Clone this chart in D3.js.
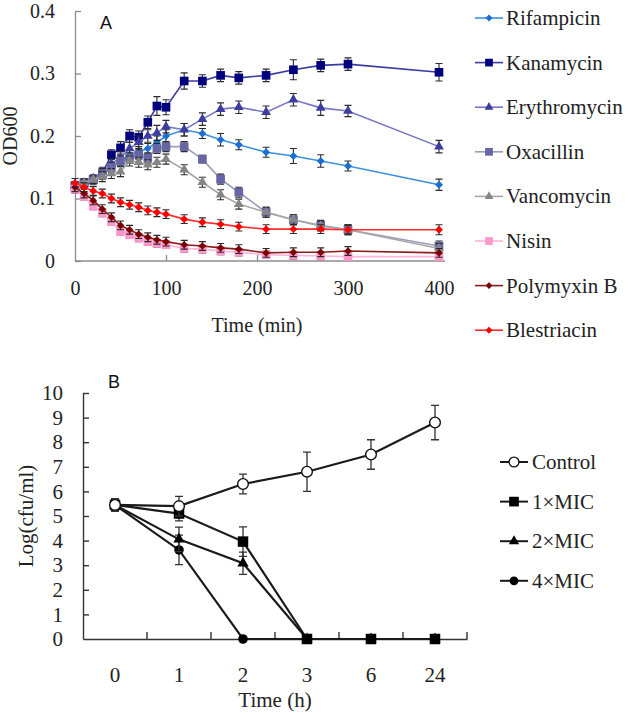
<!DOCTYPE html>
<html><head><meta charset="utf-8">
<script src="https://cdn.jsdelivr.net/npm/d3@7/dist/d3.min.js"></script>
<style>
html,body{margin:0;padding:0;background:#fff;}
svg{display:block;}
</style>
</head><body>
<svg id="chart" width="633" height="714"></svg>
<script>
// ---------- Panel A data ----------
const timeA = [0,10,20,30,40,50,60,70,80,90,100,120,140,160,180,210,240,270,300,400];
const drugs = ["Rifampicin","Kanamycin","Erythromycin","Oxacillin","Vancomycin","Nisin","Polymyxin B","Blestriacin"];
const rifampicin   = [0.12,0.122,0.128,0.138,0.15,0.16,0.17,0.175,0.18,0.19,0.2,0.21,0.204,0.194,0.186,0.174,0.168,0.16,0.152,0.122];
const kanamycin    = [0.12,0.125,0.13,0.14,0.17,0.181,0.2,0.198,0.222,0.248,0.246,0.288,0.288,0.297,0.293,0.297,0.306,0.313,0.315,0.302];
const erythromycin = [0.12,0.125,0.132,0.142,0.155,0.165,0.18,0.19,0.2,0.205,0.215,0.21,0.227,0.243,0.246,0.238,0.258,0.245,0.24,0.183];
const oxacillin    = [0.12,0.125,0.13,0.14,0.15,0.16,0.165,0.17,0.165,0.18,0.183,0.183,0.163,0.131,0.11,0.078,0.066,0.057,0.05,0.024];
const vancomycin   = [0.12,0.125,0.13,0.135,0.14,0.143,0.16,0.158,0.154,0.158,0.163,0.146,0.126,0.106,0.091,0.078,0.066,0.056,0.05,0.02];
const nisin        = [0.115,0.103,0.088,0.077,0.063,0.047,0.042,0.037,0.031,0.028,0.026,0.02,0.019,0.016,0.014,0.01,0.009,0.008,0.007,0.007];
const polymyxinB   = [0.118,0.108,0.097,0.083,0.07,0.057,0.05,0.043,0.038,0.034,0.031,0.026,0.024,0.021,0.019,0.013,0.014,0.014,0.016,0.013];
const blestriacin  = [0.125,0.118,0.112,0.108,0.1,0.094,0.09,0.086,0.081,0.078,0.075,0.067,0.062,0.059,0.055,0.051,0.051,0.051,0.05,0.05];

const rifampicinErr   = [0.006,0.006,0.006,0.007,0.008,0.008,0.008,0.008,0.008,0.01,0.01,0.01,0.008,0.01,0.008,0.008,0.012,0.01,0.008,0.009];
const kanamycinErr    = [0.006,0.006,0.006,0.008,0.008,0.01,0.01,0.01,0.01,0.015,0.012,0.013,0.01,0.01,0.01,0.01,0.016,0.01,0.01,0.014];
const erythromycinErr = [0.006,0.006,0.006,0.008,0.008,0.01,0.01,0.01,0.01,0.012,0.01,0.01,0.01,0.01,0.01,0.01,0.01,0.012,0.009,0.01];
const oxacillinErr    = [0.006,0.006,0.006,0.008,0.008,0.008,0.008,0.008,0.008,0.008,0.008,0.008,0.006,0.008,0.008,0.008,0.008,0.008,0.008,0.008];
const vancomycinErr   = [0.006,0.006,0.006,0.008,0.008,0.008,0.008,0.008,0.008,0.008,0.008,0.008,0.008,0.008,0.008,0.008,0.008,0.008,0.008,0.008];
const nisinErr        = [0.006,0.006,0.006,0.006,0.006,0.006,0.006,0.006,0.006,0.006,0.006,0.006,0.006,0.006,0.006,0.006,0.006,0.006,0.006,0.006];
const polymyxinBErr   = [0.007,0.007,0.007,0.007,0.007,0.007,0.007,0.007,0.007,0.007,0.007,0.007,0.007,0.007,0.007,0.007,0.007,0.007,0.007,0.007];
const blestriacinErr  = [0.007,0.007,0.007,0.007,0.007,0.007,0.007,0.007,0.007,0.007,0.007,0.007,0.007,0.007,0.007,0.007,0.007,0.007,0.007,0.008];

const ticksAx = [0,100,200,300,400];
const ticksAy = [0,0.1,0.2,0.3,0.4];

// ---------- Panel B data ----------
const timeB = ["0","1","2","3","6","24"];
const groupsB = ["Control","1×MIC","2×MIC","4×MIC"];
const control  = [5.45,5.4,6.3,6.8,7.5,8.8];
const mic1     = [5.45,5.1,3.96,0,0,0];
const mic2     = [5.45,4.05,3.08,0,0,0];
const mic4     = [5.45,3.62,0,0,0,0];
const controlErr = [0.25,0.4,0.4,0.8,0.6,0.7];
const mic1Err    = [0.25,0.3,0.6,0,0,0];
const mic2Err    = [0.25,0.5,0.45,0,0,0];
const mic4Err    = [0.25,0.6,0,0,0,0];
const ticksBy = [0,1,2,3,4,5,6,7,8,9,10];

// ---------- styles ----------
const serif = "'Liberation Serif','Times New Roman',serif";
const sans = "'Liberation Sans',Arial,sans-serif";

const svg = d3.select("#chart");

// ================= PANEL A =================
const seriesA = [
  {name:drugs[0], v:rifampicin,   e:rifampicinErr,   line:"#3d8fe0", fill:"#1a6fd0", shape:d3.symbolDiamond2, size:40},
  {name:drugs[1], v:kanamycin,    e:kanamycinErr,    line:"#3a3aa2", fill:"#00007f", shape:d3.symbolSquare,   size:75},
  {name:drugs[2], v:erythromycin, e:erythromycinErr, line:"#7676c6", fill:"#3d3d9e", shape:d3.symbolTriangle, size:42},
  {name:drugs[3], v:oxacillin,    e:oxacillinErr,    line:"#9c9cbc", fill:"#6666a4", shape:d3.symbolSquare,   size:75},
  {name:drugs[4], v:vancomycin,   e:vancomycinErr,   line:"#a6a6a6", fill:"#858585", shape:d3.symbolTriangle, size:42},
  {name:drugs[5], v:nisin,        e:nisinErr,        line:"#ffb4da", fill:"#ff99cc", shape:d3.symbolSquare,   size:75},
  {name:drugs[6], v:polymyxinB,   e:polymyxinBErr,   line:"#8a1c1c", fill:"#7a0000", shape:d3.symbolDiamond2, size:38},
  {name:drugs[7], v:blestriacin,  e:blestriacinErr,  line:"#ff2a2a", fill:"#ff0000", shape:d3.symbolDiamond2, size:40}
];

const xA = d3.scaleLinear().domain([0,400]).range([75,439]);
const yA = d3.scaleLinear().domain([0,0.4]).range([261,11]);
const gA = svg.append("g");

// axes
const axA_y = gA.append("g").attr("transform","translate(75,0)")
  .call(d3.axisLeft(yA).tickValues(ticksAy).tickFormat(d=> d===0?"0":d3.format(".1f")(d)).tickSizeInner(-6).tickSizeOuter(0).tickPadding(20));
const axA_x = gA.append("g").attr("transform","translate(0,261)")
  .call(d3.axisBottom(xA).tickValues(ticksAx).tickSizeInner(-6).tickSizeOuter(0).tickPadding(20));
[axA_y, axA_x].forEach(a=>{
  a.attr("font-family",serif);
  a.select(".domain").attr("stroke","#8c8c8c").attr("stroke-width",1.3);
  a.selectAll(".tick line").attr("stroke","#8c8c8c").attr("stroke-width",1.3);
  a.selectAll("text").attr("font-family",serif).attr("font-size",20).attr("fill","#222");
});
axA_x.select(".tick line").remove();
axA_x.select(".domain").attr("d",`M75,0H445`);

gA.append("text").attr("transform","translate(17,136) rotate(-90)").attr("text-anchor","middle")
  .attr("font-family",serif).attr("font-size",20).attr("fill","#222").text("OD600");
gA.append("text").attr("x",257).attr("y",332).attr("text-anchor","middle")
  .attr("font-family",serif).attr("font-size",20).attr("fill","#222").text("Time (min)");
gA.append("text").attr("x",100).attr("y",29).attr("font-family",sans).attr("font-size",18).attr("fill","#111").text("A");

const lineA = d3.line().x((d,i)=>xA(timeA[i])).y(d=>yA(d));
seriesA.forEach(s=>{
  const g = gA.append("g");
  g.append("path").attr("d",lineA(s.v)).attr("fill","none").attr("stroke",s.line).attr("stroke-width",1.6);
  s.v.forEach((v,i)=>{
    const x = xA(timeA[i]), y1 = yA(v+s.e[i]), y2 = yA(v-s.e[i]);
    g.append("path").attr("d",`M${x},${y1}V${y2}M${x-3.5},${y1}H${x+3.5}M${x-3.5},${y2}H${x+3.5}`)
      .attr("stroke","#2a2a2a").attr("stroke-width",1.1).attr("fill","none");
  });
  s.v.forEach((v,i)=>{
    g.append("path").attr("d",d3.symbol().type(s.shape).size(s.size)())
      .attr("transform",`translate(${xA(timeA[i])},${yA(v)})`).attr("fill",s.fill);
  });
});

// legend A
const legA = gA.append("g");
seriesA.forEach((s,i)=>{
  const cy = 18 + i*44.6;
  legA.append("line").attr("x1",475).attr("x2",503).attr("y1",cy).attr("y2",cy).attr("stroke",s.line).attr("stroke-width",1.6);
  legA.append("path").attr("d",d3.symbol().type(s.shape).size(s.size*0.8)()).attr("transform",`translate(489,${cy})`).attr("fill",s.fill);
  legA.append("text").attr("x",506).attr("y",cy+7).attr("font-family",serif).attr("font-size",21).attr("fill","#222").text(s.name);
});

// ================= PANEL B =================
const xB = d3.scaleBand().domain(timeB).range([83,467]);
const yB = d3.scaleLinear().domain([0,10]).range([639,393]);
const gB = svg.append("g");
const cx = d => xB(d) + xB.bandwidth()/2;

const axB_y = gB.append("g").attr("transform","translate(83,0)")
  .call(d3.axisLeft(yB).tickValues(ticksBy).tickSizeInner(-6).tickSizeOuter(0).tickPadding(20));
const axB_x = gB.append("g").attr("transform","translate(0,639)")
  .call(d3.axisBottom(xB).tickSize(0).tickPadding(28));
[axB_y, axB_x].forEach(a=>{
  a.attr("font-family",serif);
  a.select(".domain").attr("stroke","#333").attr("stroke-width",1.4);
  a.selectAll(".tick line").attr("stroke","#333").attr("stroke-width",1.4);
  a.selectAll("text").attr("font-family",serif).attr("font-size",21).attr("fill","#222");
});
axB_y.select(".tick line").remove();
// category boundary ticks
const bounds = timeB.slice(1).map(d=>xB(d)).concat([xB.range()[1]]);
gB.append("g").selectAll("line").data(bounds).join("line")
  .attr("x1",d=>d).attr("x2",d=>d).attr("y1",639).attr("y2",632).attr("stroke","#333").attr("stroke-width",1.4);

gB.append("text").attr("transform","translate(33,516) rotate(-90)").attr("text-anchor","middle")
  .attr("font-family",serif).attr("font-size",21).attr("fill","#222").text("Log(cfu/ml)");
gB.append("text").attr("x",275).attr("y",707).attr("text-anchor","middle")
  .attr("font-family",serif).attr("font-size",21).attr("fill","#222").text("Time (h)");
gB.append("text").attr("x",108).attr("y",388).attr("font-family",sans).attr("font-size",18).attr("fill","#111").text("B");

const seriesB = [
  {name:groupsB[3], v:mic4,    e:mic4Err,    shape:d3.symbolCircle,   size:72,  fill:"#000"},
  {name:groupsB[2], v:mic2,    e:mic2Err,    shape:d3.symbolTriangle, size:55,  fill:"#000"},
  {name:groupsB[1], v:mic1,    e:mic1Err,    shape:d3.symbolSquare,   size:110, fill:"#000"},
  {name:groupsB[0], v:control, e:controlErr, shape:d3.symbolCircle,   size:90,  fill:"#fff"}
];
const lineB = d3.line().x((d,i)=>cx(timeB[i])).y(d=>yB(d));
seriesB.forEach(s=>{
  const g = gB.append("g");
  g.append("path").attr("d",lineB(s.v)).attr("fill","none").attr("stroke","#1a1a1a").attr("stroke-width",2.2);
  s.v.forEach((v,i)=>{
    if(!s.e[i]) return;
    const x = cx(timeB[i]), y1 = yB(v+s.e[i]), y2 = yB(v-s.e[i]);
    g.append("path").attr("d",`M${x},${y1}V${y2}M${x-4},${y1}H${x+4}M${x-4},${y2}H${x+4}`)
      .attr("stroke","#333").attr("stroke-width",1.3).attr("fill","none");
  });
  s.v.forEach((v,i)=>{
    g.append("path").attr("d",d3.symbol().type(s.shape).size(s.size)())
      .attr("transform",`translate(${cx(timeB[i])},${yB(v)})`)
      .attr("fill",s.fill).attr("stroke","#111").attr("stroke-width",s.fill==="#fff"?1.4:0);
  });
});

// legend B
const legB = gB.append("g");
const legOrder = [seriesB[3],seriesB[2],seriesB[1],seriesB[0]];
legOrder.forEach((s,i)=>{
  const cy = 462 + i*39.6;
  legB.append("line").attr("x1",500).attr("x2",528).attr("y1",cy).attr("y2",cy).attr("stroke","#1a1a1a").attr("stroke-width",2);
  legB.append("path").attr("d",d3.symbol().type(s.shape).size(s.size*0.85)()).attr("transform",`translate(514,${cy})`)
    .attr("fill",s.fill).attr("stroke","#111").attr("stroke-width",s.fill==="#fff"?1.3:0);
  legB.append("text").attr("x",532).attr("y",cy+7).attr("font-family",serif).attr("font-size",21).attr("fill","#222").text(s.name);
});
</script>
</body></html>
